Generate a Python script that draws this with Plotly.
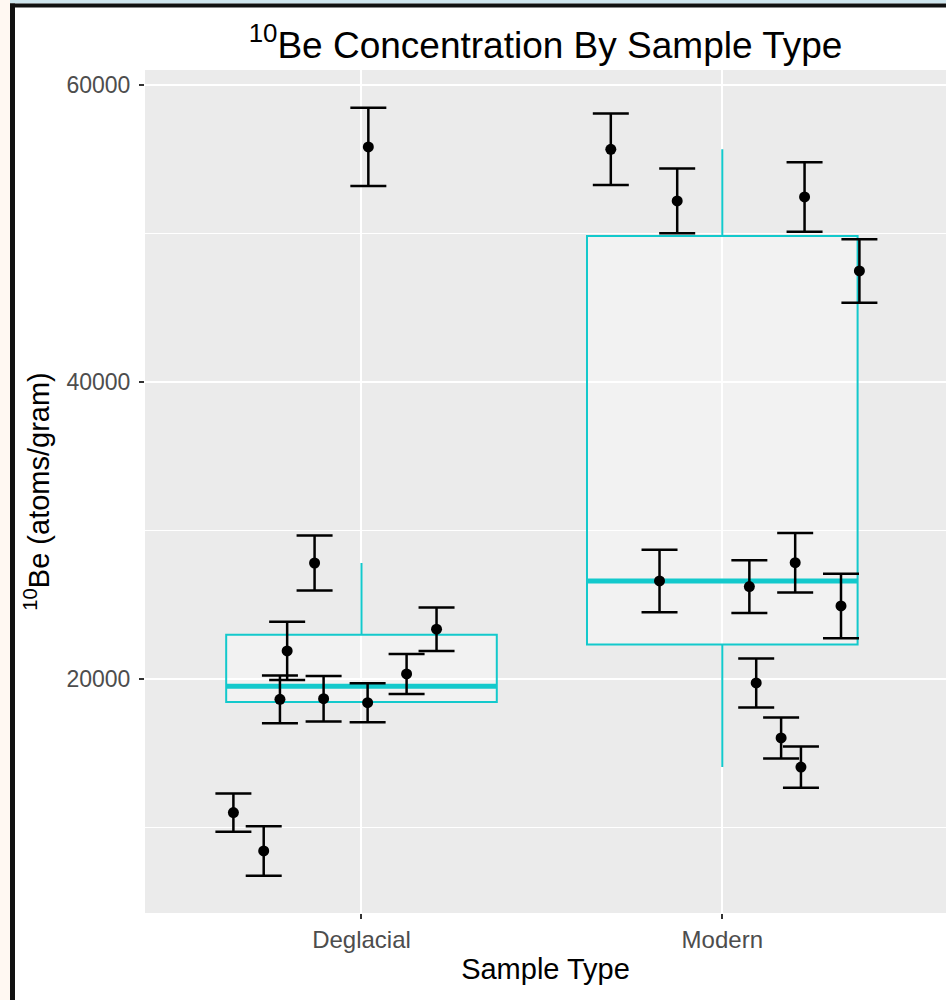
import numpy as np
import plotly.graph_objects as go

categories = ["Deglacial", "Modern"]
cat_pos = [1, 2]

# Deglacial samples
deg_values = [21890, 18630, 18670, 18400, 20340, 23350, 11000, 8420, 27810, 55830]
deg_errors = [1960, 1610, 1530, 1310, 1350, 1470, 1290, 1670, 1850, 2630]
deg_jitter = [-0.206, -0.226, -0.105, 0.017, 0.125, 0.208, -0.355, -0.271, -0.130, 0.019]

# Modern samples
mod_values = [55670, 52190, 52460, 47480, 26600, 26220, 27830, 24920, 19730, 16030, 14070]
mod_errors = [2410, 2180, 2340, 2140, 2110, 1770, 2000, 2170, 1650, 1380, 1390]
mod_jitter = [-0.309, -0.125, 0.228, 0.380, -0.174, 0.075, 0.202, 0.329, 0.094, 0.163, 0.218]

y_ticks = [20000, 40000, 60000]
y_tick_labels = ["20000", "40000", "60000"]

BOX_COLOR = "#13C9CC"
BOX_W = 0.75

# plot-area geometry (pixels) used only for the outer frame
W, H = 946, 1000
ML, MR, MT, MB = 145, 0, 70, 87
PW, PH = W - ML - MR, H - MT - MB


def px(x):
    return (x - ML) / PW


def py(y):
    return (H - MB - y) / PH


def tukey(vals):
    v = np.array(vals, dtype=float)
    q1, med, q3 = np.percentile(v, [25, 50, 75])
    iqr = q3 - q1
    lo = v[v >= q1 - 1.5 * iqr].min()
    hi = v[v <= q3 + 1.5 * iqr].max()
    return q1, med, q3, lo, hi


fig = go.Figure()

groups = [(deg_values, deg_errors, deg_jitter), (mod_values, mod_errors, mod_jitter)]

for c, (vals, errs, jit) in zip(cat_pos, groups):
    q1, med, q3, lo, hi = tukey(vals)
    fig.add_trace(go.Box(
        x=[c], q1=[q1], median=[med], q3=[q3], lowerfence=[lo], upperfence=[hi],
        width=BOX_W, boxpoints=False, whiskerwidth=0,
        line=dict(color=BOX_COLOR, width=2),
        fillcolor="rgba(255,255,255,0.35)",
        showlegend=False, hoverinfo="skip",
    ))
    fig.add_trace(go.Scatter(
        x=[c - BOX_W / 2, c + BOX_W / 2], y=[med, med], mode="lines",
        line=dict(color=BOX_COLOR, width=5), showlegend=False, hoverinfo="skip",
    ))

for c, (vals, errs, jit) in zip(cat_pos, groups):
    fig.add_trace(go.Scatter(
        x=[c + j for j in jit], y=vals, mode="markers",
        marker=dict(color="black", size=11),
        error_y=dict(type="data", array=errs, visible=True, color="black",
                     thickness=2.5, width=18),
        showlegend=False,
    ))

# outer frame
shapes = [
    dict(type="rect", xref="paper", yref="paper", x0=px(0), x1=px(10), y0=py(1000), y1=py(0),
         fillcolor="#FFF8F2", line=dict(width=0), layer="below"),
    dict(type="rect", xref="paper", yref="paper", x0=px(10), x1=px(946), y0=py(3.5), y1=py(0),
         fillcolor="#CFE6EE", line=dict(width=0), layer="below"),
    dict(type="rect", xref="paper", yref="paper", x0=px(10), x1=px(15), y0=py(1000), y1=py(3.5),
         fillcolor="#111111", line=dict(width=0), layer="above"),
    dict(type="rect", xref="paper", yref="paper", x0=px(10), x1=px(946), y0=py(7.5), y1=py(3.5),
         fillcolor="#111111", line=dict(width=0), layer="above"),
]

FONT = "Liberation Sans, Arial, sans-serif"

fig.update_layout(
    width=W, height=H,
    margin=dict(l=ML, r=MR, t=MT, b=MB),
    paper_bgcolor="white",
    plot_bgcolor="#EBEBEB",
    font=dict(family=FONT, color="black"),
    title=dict(text="<sup>10</sup>Be Concentration By Sample Type",
               font=dict(size=37, color="black", family=FONT),
               x=0.5, xref="paper", xanchor="center",
               y=0.955, yref="container", yanchor="middle"),
    shapes=shapes,
    showlegend=False,
)

fig.update_xaxes(
    range=[0.4, 2.62], tickvals=cat_pos, ticktext=categories,
    showgrid=True, gridcolor="white", gridwidth=2, zeroline=False,
    ticks="outside", ticklen=5, tickwidth=1.5, tickcolor="#333333",
    tickfont=dict(size=24, color="#4D4D4D"),
    title=dict(text="Sample Type", font=dict(size=29, color="black"), standoff=6),
    showline=False,
)

fig.update_yaxes(
    range=[4240, 61010], tickvals=y_ticks, ticktext=y_tick_labels,
    showgrid=True, gridcolor="white", gridwidth=2, zeroline=False,
    minor=dict(tickvals=[10000, 30000, 50000], showgrid=True, gridcolor="white", gridwidth=1, ticks=""),
    ticks="outside", ticklen=5, tickwidth=1.5, tickcolor="#333333",
    tickfont=dict(size=23, color="#4D4D4D"),
    ticklabelstandoff=4,
    title=dict(text="<sup>10</sup>Be (atoms/gram)", font=dict(size=29, color="black"), standoff=8),
    showline=False,
)

fig.write_html(
    "out.html",
    config={"displayModeBar": False},
    post_script="document.body.style.margin='0';document.body.style.overflow='hidden';",
)
